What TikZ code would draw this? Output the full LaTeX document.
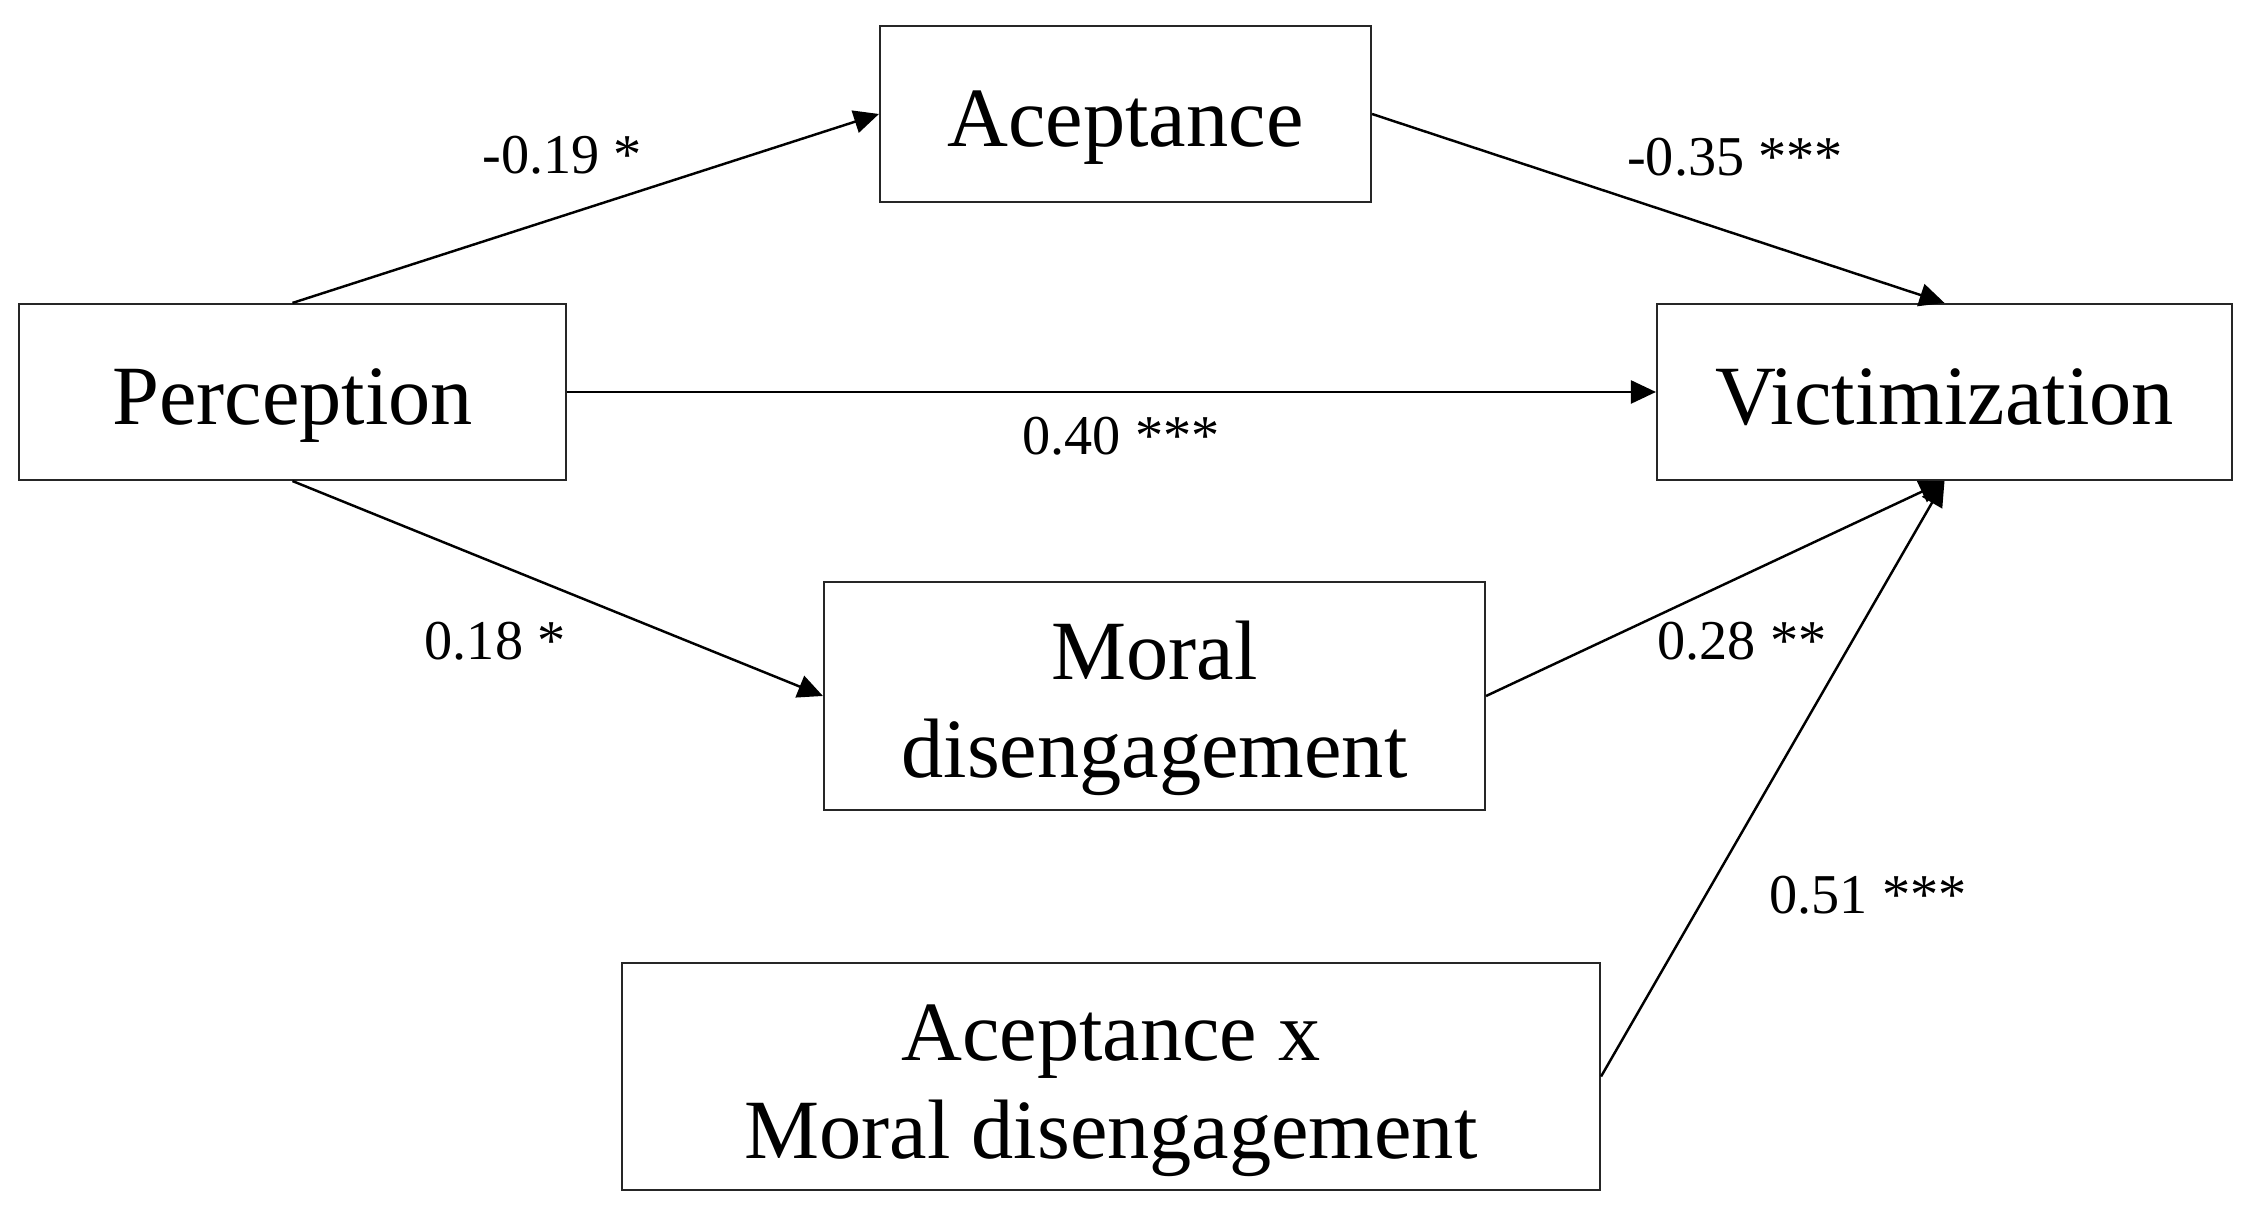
\documentclass[tikz,border=0pt]{standalone}
\usepackage{fontspec}
\setmainfont{Liberation Serif}
\usetikzlibrary{arrows.meta}

\begin{document}
\begin{tikzpicture}[
    varbox/.style={rectangle, draw=black!85, line width=0.6pt,
                   inner sep=0pt, align=center, text depth=0cm,
                   text height=0.65cm,
                   font=\fontsize{24}{28}\selectfont},
    twoline/.style={varbox, text height=1.64cm},
    arr/.style={-{Triangle[length=0.25cm, width=0.23cm]},
                line width=0.7pt, black},
    coeflbl/.style={font=\fontsize{16}{20}\selectfont},
]
\useasboundingbox (0, 0) rectangle (22.48, 12.15);

% Variables
\node[varbox, minimum width=4.91cm, minimum height=1.76cm]
    (acep) at (11.255, 11.01) {Aceptance};
\node[varbox, minimum width=5.47cm, minimum height=1.76cm]
    (perc) at (2.925, 8.23) {Perception};
\node[varbox, minimum width=5.75cm, minimum height=1.76cm]
    (vict) at (19.445, 8.23) {Victimization};
\node[twoline, minimum width=6.61cm, minimum height=2.28cm]
    (moral) at (11.545, 5.19) {Moral\\disengagement};
\node[twoline, minimum width=9.78cm, minimum height=2.27cm]
    (inter) at (11.11, 1.385) {Aceptance x\\Moral disengagement};

% Paths
\draw[arr] (perc.north) -- (acep.west);
\draw[arr] (acep.east) -- (vict.north);
\draw[arr] (perc.east) -- (vict.west);
\draw[arr] (perc.south) -- (moral.west);
\draw[arr] (moral.east) -- (vict.south);
\draw[arr] (inter.east) -- (vict.south);

% Coefficients
\node[coeflbl] (c1) at (5.62, 10.60) {-0.19 *};
\node[coeflbl] (c2) at (17.35, 10.58) {-0.35 ***};
\node[coeflbl] (c3) at (11.21, 7.79) {0.40 ***};
\node[coeflbl] (c4) at (4.95, 5.74) {0.18 *};
\node[coeflbl] (c5) at (17.42, 5.74) {0.28 **};
\node[coeflbl] (c6) at (18.68, 3.20) {0.51 ***};

\end{tikzpicture}
\end{document}
